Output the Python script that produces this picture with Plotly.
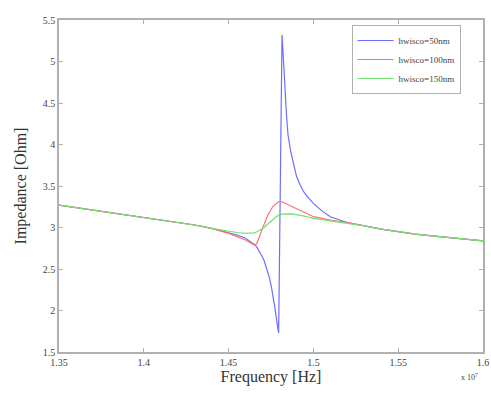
import plotly.graph_objects as go

freq = [1.35, 1.36, 1.37, 1.38, 1.39, 1.40, 1.41, 1.42, 1.43, 1.44, 1.45, 1.455, 1.46,
        1.4625, 1.465, 1.4665, 1.468, 1.4695, 1.471, 1.4725, 1.474, 1.475, 1.476, 1.477,
        1.478, 1.479, 1.4795, 1.4815, 1.4825, 1.483, 1.484, 1.485, 1.4865, 1.488, 1.490,
        1.492, 1.494, 1.496, 1.498, 1.50, 1.505, 1.51, 1.52, 1.53, 1.54, 1.55, 1.56, 1.57,
        1.58, 1.59, 1.60]

z_50 = [3.27, 3.24, 3.21, 3.18, 3.15, 3.12, 3.09, 3.06, 3.03, 2.99, 2.94, 2.91, 2.87,
        2.84, 2.80, 2.77, 2.72, 2.66, 2.60, 2.51, 2.40, 2.31, 2.20, 2.07,
        1.93, 1.80, 1.73, 5.32, 5.02, 4.78, 4.40, 4.12, 3.93, 3.78, 3.62,
        3.52, 3.44, 3.38, 3.33, 3.29, 3.20, 3.13, 3.06, 3.02, 2.98, 2.95, 2.92, 2.90,
        2.88, 2.86, 2.84]

z_100 = [3.27, 3.24, 3.21, 3.18, 3.15, 3.12, 3.09, 3.06, 3.03, 2.99, 2.93, 2.89, 2.85,
         2.82, 2.79, 2.80, 2.88, 2.96, 3.05, 3.12, 3.18, 3.22, 3.25, 3.27,
         3.29, 3.305, 3.31, 3.31, 3.30, 3.295, 3.285, 3.275, 3.26, 3.24, 3.22,
         3.20, 3.18, 3.16, 3.145, 3.13, 3.11, 3.09, 3.06, 3.02, 2.98, 2.95, 2.92, 2.90,
         2.88, 2.86, 2.84]

z_150 = [3.27, 3.24, 3.21, 3.18, 3.15, 3.12, 3.09, 3.06, 3.03, 2.99, 2.955, 2.94, 2.93,
         2.93, 2.935, 2.945, 2.96, 2.98, 3.00, 3.03, 3.06, 3.08, 3.10, 3.115,
         3.13, 3.14, 3.15, 3.16, 3.162, 3.165, 3.165, 3.165, 3.163, 3.16, 3.155,
         3.15, 3.14, 3.13, 3.12, 3.11, 3.095, 3.08, 3.05, 3.02, 2.98, 2.95, 2.92, 2.90,
         2.88, 2.86, 2.84]

names = ["hwisco=50nm", "hwisco=100nm", "hwisco=150nm"]
colors = ["rgb(110,110,255)", "rgb(255,110,110)", "rgb(110,225,110)"]

x_ticks = [1.35, 1.4, 1.45, 1.5, 1.55, 1.6]
x_labels = ["1.35", "1.4", "1.45", "1.5", "1.55", "1.6"]
y_ticks = [1.5, 2, 2.5, 3, 3.5, 4, 4.5, 5, 5.5]
y_labels = ["1.5", "2", "2.5", "3", "3.5", "4", "4.5", "5", "5.5"]

fig = go.Figure()
for ys, n, c in zip([z_50, z_100, z_150], names, colors):
    fig.add_trace(go.Scatter(x=freq, y=ys, mode="lines", name=n,
                             line=dict(color=c, width=1.2)))

axis_common = dict(showgrid=False, zeroline=False, showline=True, mirror="ticks",
                   linecolor="#b0b0b0", linewidth=1.5, ticks="inside", ticklen=4,
                   tickcolor="#b0b0b0", ticklabeloverflow="allow",
                   tickfont=dict(family="Liberation Serif", size=10, color="#444"))

fig.update_layout(
    width=491, height=396,
    margin=dict(l=59, r=2, t=20, b=44),
    paper_bgcolor="white", plot_bgcolor="white",
    font=dict(family="Liberation Serif", color="#333"),
    xaxis=dict(range=[1.35, 1.6], tickvals=x_ticks, ticktext=x_labels,
               title=dict(text="Frequency [Hz]", font=dict(size=16, color="#333"), standoff=4),
               **axis_common),
    yaxis=dict(range=[1.5, 5.5], tickvals=y_ticks, ticktext=y_labels,
               title=dict(text="Impedance [Ohm]", font=dict(size=16, color="#333"), standoff=12),
               **axis_common),
    legend=dict(x=0.69, y=0.985, xanchor="left", yanchor="top",
                bordercolor="#b0b0b0", borderwidth=1, bgcolor="white",
                font=dict(family="Liberation Serif", size=9, color="#444"),
                tracegroupgap=0, itemwidth=36),
    showlegend=True,
)
fig.add_annotation(text="x 10<sup>7</sup>", xref="paper", yref="paper", x=0.993, y=-0.055,
                   xanchor="right", yanchor="top", showarrow=False,
                   font=dict(family="Liberation Serif", size=8, color="#444"))

fig.write_html("out.html", config={"displayModeBar": False},
               post_script="document.body.style.margin='0';")
